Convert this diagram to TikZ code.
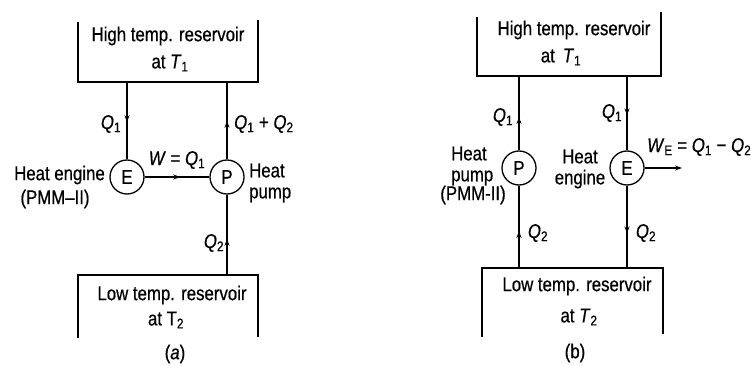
\documentclass[tikz,border=0pt]{standalone}
\usepackage{fontspec}
\setmainfont{Liberation Sans}[FakeStretch=0.84,FakeBold=0.6]
\usetikzlibrary{arrows.meta,decorations.markings}
\newcommand{\qsym}[1]{\textit{Q}\textsubscript{#1}}
\begin{document}
\begin{tikzpicture}[x=1pt,y=-1pt,
  font=\fontsize{20}{21}\selectfont,
  wire/.style={line width=1.3pt},
  dev/.style={circle,draw,line width=1.3pt,minimum size=34pt,inner sep=0pt},
  midarrow/.style={postaction={decorate},decoration={markings,mark=at position #1 with {\arrow{Stealth[length=7pt,width=5pt]}}}},
  midarrow/.default=0.5,
  lbl/.style={inner sep=0pt},
]
\useasboundingbox (0,0) rectangle (751,366);

% ---------- (a) ----------
\draw[wire] (78,22) -- (78,82) -- (258,82) -- (258,20);
\node[lbl] (aHi1) at (168,36) {High temp. reservoir};
\node[lbl] (aHi2) at (170,63) {at \textit{T}\textsubscript{1}};
\coordinate (aHL) at (127,82);
\coordinate (aHR) at (227,82);

\draw[wire] (78,338) -- (78,275) -- (258,275) -- (258,337);
\node[lbl] (aLo1) at (172,295) {Low temp. reservoir};
\node[lbl] (aLo2) at (166,320) {at T\textsubscript{2}};
\coordinate (aLR) at (227,275);

\node[dev] (aE) at (127,177) {E};
\node[dev] (aP) at (227,177) {P};

\draw[wire,midarrow=0.52] (aHL) -- (aE);
\draw[wire,midarrow=0.5] (aP) -- (aHR);
\draw[wire,midarrow=0.55] (aE) -- (aP);
\draw[wire,midarrow=0.45] (aLR) -- (aP);

\node[lbl] (aQ1) at (111,124) {\qsym{1}};
\node[lbl,anchor=west] (aQ12) at (234,124) {\qsym{1} + \qsym{2}};
\node[lbl] (aW) at (177,160) {\textit{W} = \qsym{1}};
\node[lbl,anchor=east] (aHE) at (105,175) {Heat engine};
\node[lbl] (aPMM) at (55,199) {(PMM–II)};
\node[lbl,anchor=west,align=left] (aHP) at (249,183) {Heat\\pump};
\node[lbl] (aQ2) at (214,243) {\qsym{2}};
\node[lbl] (aCap) at (175,354) {(\textit{a})};

% ---------- (b) ----------
\draw[wire] (477,17) -- (477,76) -- (661,76) -- (661,12);
\node[lbl] (bHi1) at (574,30) {High temp. reservoir};
\node[lbl] (bHi2) at (561,57) {at \,\textit{T}\textsubscript{1}};
\coordinate (bHL) at (519,76);
\coordinate (bHR) at (627,76);

\draw[wire] (482,337) -- (482,268) -- (663,268) -- (663,334);
\node[lbl] (bLo1) at (577,286) {Low temp. reservoir};
\node[lbl] (bLo2) at (579,317) {at \textit{T}\textsubscript{2}};
\coordinate (bLL) at (519,268);
\coordinate (bLR) at (627,268);

\node[dev] (bP) at (519,168) {P};
\node[dev] (bE) at (627,168) {E};
\coordinate (bW) at (682,168);

\draw[wire,midarrow=0.45] (bP) -- (bHL);
\draw[wire,midarrow=0.53] (bHR) -- (bE);
\draw[wire,midarrow=0.45] (bLL) -- (bP);
\draw[wire,midarrow=0.58] (bE) -- (bLR);
\draw[wire,-{Stealth[length=7pt,width=5pt]}] (bE) -- (bW);

\node[lbl] (bQ1a) at (503,117) {\qsym{1}};
\node[lbl] (bQ1b) at (612,113) {\qsym{1}};
\node[lbl,anchor=west] (bWE) at (647,147) {\textit{W}\textsubscript{E} = \qsym{1} − \qsym{2}};
\node[lbl,anchor=west,align=left] (bHP) at (451,166) {Heat\\pump};
\node[lbl] (bPMM) at (473,195) {(PMM-II)};
\node[lbl,align=center] (bHE) at (580,169) {Heat\\engine};
\node[lbl] (bQ2a) at (538,233) {\qsym{2}};
\node[lbl] (bQ2b) at (646,233) {\qsym{2}};
\node[lbl] (bCap) at (575,353) {(b)};
\end{tikzpicture}
\end{document}
